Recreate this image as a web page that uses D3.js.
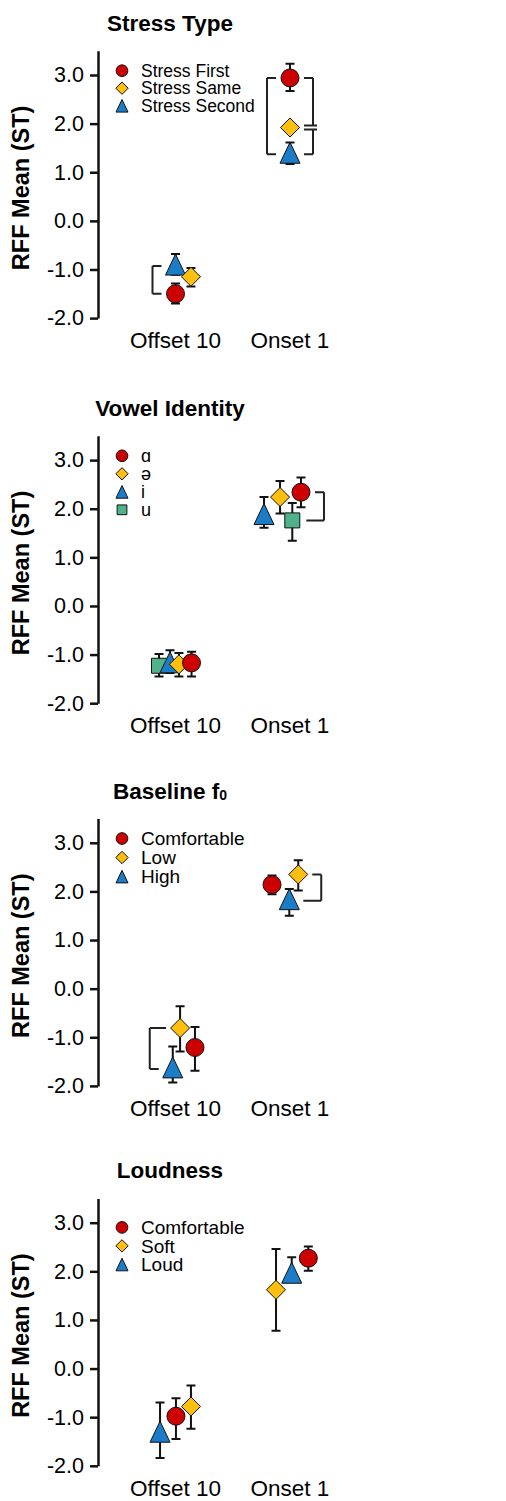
<!DOCTYPE html>
<meta charset="utf-8">
<style>

body { margin: 0; background: #fff; }

text {
  font-family: "Liberation Sans", Arial, sans-serif;
  fill: #000;
}

.title { font-weight: bold; font-size: 22.5px; }
.ylab { font-weight: bold; font-size: 23.5px; }
.xlab { font-size: 22.5px; }
.axis .tick text { font-size: 21.5px; font-family: "Liberation Sans", Arial, sans-serif; fill: #000; }
.axis path, .axis line { stroke: #111; stroke-width: 2.5px; }

.err { stroke: #111; stroke-width: 2px; fill: none; }
.bracket { stroke: #222; stroke-width: 2px; fill: none; }
.mark { stroke: #111; stroke-width: 1px; }

</style>
<body>
<script src="https://d3js.org/d3.v7.min.js"></script>
<script>

var width = 506,
    height = 1501;

var categories = ["Offset 10", "Onset 1"];

// Stress Type  (rows = series, cols = [Offset 10, Onset 1])
var stressSeries = ["Stress First", "Stress Same", "Stress Second"];
var stressMean  = [[-1.50, 2.94], [-1.15, 1.92], [-0.93, 1.37]];
var stressLow   = [[-1.70, 2.67], [-1.35, 1.84], [-1.11, 1.17]];
var stressHigh  = [[-1.29, 3.23], [-0.97, 2.00], [-0.68, 1.61]];
var stressDodge = [[0, 0], [0.135, 0], [0, 0]];
var stressBrackets = [[0, 0, 2, "left"], [1, 0, 2, "left"], [1, 0, 1, "right"], [1, 1, 2, "right"]];

// Vowel Identity
var vowelSeries = ["ɑ", "ə", "i", "u"];
var vowelMean  = [[-1.17, 2.34], [-1.20, 2.24], [-1.19, 1.86], [-1.23, 1.76]];
var vowelLow   = [[-1.45, 2.03], [-1.45, 1.90], [-1.38, 1.61], [-1.45, 1.34]];
var vowelHigh  = [[-0.94, 2.64], [-0.97, 2.57], [-0.91, 2.24], [-0.99, 2.12]];
var vowelDodge = [[0.14, 0.096], [0.03, -0.087], [-0.048, -0.227], [-0.144, 0.02]];
var vowelBrackets = [[1, 0, 3, "right"]];

// Baseline f0
var f0Series = ["Comfortable", "Low", "High"];
var f0Mean  = [[-1.21, 2.14], [-0.81, 2.35], [-1.65, 1.81]];
var f0Low   = [[-1.69, 1.94], [-1.29, 2.02], [-1.93, 1.50]];
var f0High  = [[-0.79, 2.33], [-0.36, 2.64], [-1.19, 2.05]];
var f0Dodge = [[0.17, -0.157], [0.04, 0.072], [-0.024, -0.006]];
var f0Brackets = [[0, 1, 2, "left"], [1, 1, 2, "right"]];

// Loudness
var loudSeries = ["Comfortable", "Soft", "Loud"];
var loudMean  = [[-0.98, 2.27], [-0.78, 1.62], [-1.33, 1.94]];
var loudLow   = [[-1.45, 2.01], [-1.24, 0.78], [-1.84, 1.81]];
var loudHigh  = [[-0.61, 2.51], [-0.35, 2.46], [-0.70, 2.29]];
var loudDodge = [[0.004, 0.16], [0.135, -0.122], [-0.135, 0.015]];
var loudBrackets = [];

var yTicks = [-2, -1, 0, 1, 2, 3];

var panels = [
  {title: "Stress Type", sub: "", series: stressSeries, mean: stressMean, lo: stressLow, hi: stressHigh,
   dodge: stressDodge, shapes: ["circle", "diamond", "triangle"], brackets: stressBrackets},
  {title: "Vowel Identity", sub: "", series: vowelSeries, mean: vowelMean, lo: vowelLow, hi: vowelHigh,
   dodge: vowelDodge, shapes: ["circle", "diamond", "triangle", "square"], brackets: vowelBrackets},
  {title: "Baseline f", sub: "0", series: f0Series, mean: f0Mean, lo: f0Low, hi: f0High,
   dodge: f0Dodge, shapes: ["circle", "diamond", "triangle"], brackets: f0Brackets},
  {title: "Loudness", sub: "", series: loudSeries, mean: loudMean, lo: loudLow, hi: loudHigh,
   dodge: loudDodge, shapes: ["circle", "diamond", "triangle"], brackets: loudBrackets}
];

// layout
var panelTop = [50.7, 435.8, 818.5, 1198.4],
    panelH = 267.4,
    axisX = 98;
var legendDy = [20, 20, 20, 29],
    legendStep = [17.5, 18, 19, 18.5],
    legendFont = [17.5, 18, 19, 19];

var fill = {circle: "#cc0000", diamond: "#ffbf0f", triangle: "#1b7cc8", square: "#4fb28a"};

function markerPath(shape, k) {
  var p = d3.path();
  if (shape === "circle") {
    p.arc(0, 0, 9 * k, 0, 2 * Math.PI);
  } else if (shape === "diamond") {
    var d = 9.5 * k;
    p.moveTo(0, -d); p.lineTo(d, 0); p.lineTo(0, d); p.lineTo(-d, 0); p.closePath();
  } else if (shape === "triangle") {
    p.moveTo(0, -12 * k); p.lineTo(10 * k, 9 * k); p.lineTo(-10 * k, 9 * k); p.closePath();
  } else {
    var s = 7.5 * k;
    p.rect(-s, -s, 2 * s, 2 * s);
  }
  return p.toString();
}

var svg = d3.select("body").append("svg")
    .attr("width", width)
    .attr("height", height);

panels.forEach(function(p, i) {
  var top = panelTop[i];
  var y = d3.scaleLinear().domain([-2, 3.5]).range([top + panelH, top]);
  var x = d3.scaleLinear().domain([0, 1]).range([175.5, 290]);
  var g = svg.append("g");

  // title
  var t = g.append("text")
      .attr("class", "title")
      .attr("x", 170)
      .attr("y", top - 20)
      .attr("text-anchor", "middle")
      .text(p.title);
  if (p.sub) t.append("tspan").attr("font-size", "14px").attr("dy", 1).text(p.sub);

  // y axis
  g.append("g")
      .attr("class", "axis")
      .attr("transform", "translate(" + axisX + ",0)")
      .call(d3.axisLeft(y).tickValues(yTicks).tickSize(8).tickSizeOuter(0).tickPadding(6)
        .tickFormat(function(d) { return d.toFixed(1); }));

  g.append("text")
      .attr("class", "ylab")
      .attr("text-anchor", "middle")
      .attr("transform", "translate(28.5," + (top + panelH / 2 + 3.5) + ") rotate(-90)")
      .text("RFF Mean (ST)");

  // category labels
  g.selectAll(".xlab").data(categories).enter().append("text")
      .attr("class", "xlab")
      .attr("x", function(d, c) { return x(c); })
      .attr("y", top + panelH + 30)
      .attr("text-anchor", "middle")
      .text(function(d) { return d; });

  // points
  var pts = [];
  p.series.forEach(function(s, si) {
    categories.forEach(function(c, ci) {
      pts.push({si: si, shape: p.shapes[si], px: x(ci + p.dodge[si][ci]),
        m: y(p.mean[si][ci]), lo: y(p.lo[si][ci]), hi: y(p.hi[si][ci])});
    });
  });
  pts.reverse();

  // brackets
  var items = p.brackets.map(function(b) {
    var ends = [b[1], b[2]].map(function(s) {
      return {s: s, px: x(b[0] + p.dodge[s][b[0]]), py: y(p.mean[s][b[0]])};
    }).sort(function(a, b2) { return a.py - b2.py; });
    return {c: b[0], side: b[3], ends: ends};
  });
  items.forEach(function(it) {
    var dir = it.side === "left" ? -1 : 1;
    var ext = dir < 0 ? d3.min(it.ends, function(e) { return e.px; }) : d3.max(it.ends, function(e) { return e.px; });
    var vx = ext + dir * 23;
    var ys = it.ends.map(function(e, k) {
      var shared = items.some(function(o) {
        return o !== it && o.c === it.c && o.side === it.side && o.ends.some(function(q) { return q.s === e.s; });
      });
      return {y: e.py + (shared ? (k === 0 ? 2 : -2) : 0), a: e.px + dir * 14, over: shared ? dir * 4 : 0};
    });
    var path = d3.path();
    path.moveTo(ys[0].a, ys[0].y); path.lineTo(vx + ys[0].over, ys[0].y);
    path.moveTo(vx, ys[0].y); path.lineTo(vx, ys[1].y);
    path.moveTo(vx + ys[1].over, ys[1].y); path.lineTo(ys[1].a, ys[1].y);
    g.append("path").attr("class", "bracket").attr("d", path.toString());
  });

  // error bars
  var eb = g.selectAll(".eb").data(pts).enter().append("g");
  eb.append("path")
      .attr("class", "err")
      .attr("d", function(d) {
        return "M" + d.px + "," + d.lo + "V" + d.hi +
          "M" + (d.px - 4.5) + "," + d.lo + "H" + (d.px + 4.5) +
          "M" + (d.px - 4.5) + "," + d.hi + "H" + (d.px + 4.5);
      });

  g.selectAll(".mark").data(pts).enter().append("path")
      .attr("class", "mark")
      .attr("transform", function(d) { return "translate(" + d.px + "," + d.m + ")"; })
      .attr("d", function(d) { return markerPath(d.shape, 1); })
      .attr("fill", function(d) { return fill[d.shape]; });

  // legend
  var lg = g.selectAll(".leg").data(p.series).enter().append("g")
      .attr("transform", function(d, k) { return "translate(122," + (top + legendDy[i] + k * legendStep[i]) + ")"; });
  lg.append("path")
      .attr("class", "mark")
      .attr("d", function(d, k) { return markerPath(p.shapes[k], p.shapes[k] === "triangle" ? 0.6 : 0.65); })
      .attr("transform", function(d, k) { return p.shapes[k] === "triangle" ? "translate(0,1)" : null; })
      .attr("fill", function(d, k) { return fill[p.shapes[k]]; });
  lg.append("text")
      .attr("x", 19)
      .attr("dy", "0.35em")
      .style("font-size", legendFont[i] + "px")
      .text(function(d) { return d; });
});

</script>
